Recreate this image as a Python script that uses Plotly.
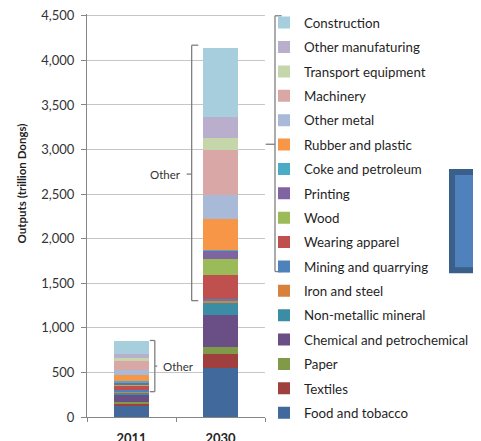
import plotly.graph_objects as go
import numpy as np

categories = ["2011", "2030"]
sectors = [
    "Food and tobacco", "Textiles", "Paper", "Chemical and petrochemical",
    "Non-metallic mineral", "Iron and steel", "Mining and quarrying",
    "Wearing apparel", "Wood", "Printing", "Coke and petroleum",
    "Rubber and plastic", "Other metal", "Machinery", "Transport equipment",
    "Other manufaturing", "Construction",
]
values_2011 = [123, 26, 22, 75, 30, 8, 14, 45, 23, 18, 19, 71, 48, 101, 38, 48, 149]
values_2030 = [555, 154, 75, 361, 143, 17, 20, 269, 176, 93, 11, 347, 269, 506, 136, 228, 784]
colors = [
    "#41699c", "#a0403e", "#7f9a48", "#6a4f87", "#3b8ca5", "#d9803a", "#4f81bd",
    "#c0504d", "#9bbb59", "#8064a2", "#4bacc6", "#f79646", "#a9b9d8", "#d8a7a6",
    "#c6d6ab", "#b9aecb", "#a6cedc",
]
other_first = "Mining and quarrying"
y_ticks = list(range(0, 4501, 500))
y_title = "Outputs (trillion Dongs)"

FONT = "Lato"
k = sectors.index(other_first)

fig = go.Figure()
for i, s in enumerate(sectors):
    fig.add_trace(go.Bar(
        x=categories, y=[values_2011[i], values_2030[i]], name=s,
        marker=dict(color=colors[i], line=dict(width=0)),
        legendgroup=s, legendrank=100 - i,
        legend="legend" if i >= k else "legend2",
    ))

# geometry: page body has an 8px margin, so figure coords = screen coords - 8
OFF = 8
W, H = 481 - OFF, 441 - OFF
Y_TOP = 4520                       # a little headroom so the 4,500 gridline is drawn
y_bottom_px, y4500_px = 417.3, 15.7
scale = (y_bottom_px - y4500_px) / 4500
top_px = y_bottom_px - Y_TOP * scale
ml = 87 - OFF
mr = W - (265 - OFF)
mt = top_px - OFF
mb = H - (y_bottom_px - OFF)
pw = W - ml - mr
ph = H - mt - mb
def px(x):
    return (x - OFF - ml) / pw
def py(y):
    return (H - mb - (y - OFF)) / ph

shapes = []
annotations = []
line_style = dict(color="#7f7f7f", width=1.3)
series = [values_2011, values_2030]
for ci, vals in enumerate(series):
    cum = np.cumsum(vals)
    bottom = float(cum[k - 1])
    top = float(cum[-1])
    mid = (bottom + top) / 2
    if ci == 0:
        xv, xe, xm = ci + 0.262, ci + 0.206, ci + 0.289
        annotations.append(dict(x=ci + 0.33, y=mid, xref="x", yref="y", text="Other",
                                showarrow=False, xanchor="left",
                                font=dict(family=FONT, size=11.5, color="#333")))
    else:
        top = top + 26
        xv, xe, xm = ci - 0.324, ci - 0.25, ci - 0.38
        annotations.append(dict(x=ci - 0.42, y=mid, xref="x", yref="y", text="Other",
                                showarrow=False, xanchor="right",
                                font=dict(family=FONT, size=11.5, color="#333")))
    for (x0, y0, x1, y1) in [(xe, top, xv, top), (xv, top, xv, bottom),
                             (xv, bottom, xe, bottom), (xv, mid, xm, mid)]:
        shapes.append(dict(type="line", xref="x", yref="y", x0=x0, y0=y0, x1=x1, y1=y1,
                           line=line_style, layer="above"))

# y-axis title (placed where the reference has it, above the plot centre)
annotations.append(dict(x=px(21.5), y=py(184), xref="paper", yref="paper",
                        text=y_title, textangle=-90, showarrow=False,
                        xanchor="center", yanchor="middle",
                        font=dict(family=FONT, size=11.5, color="#1f1f1f", weight="bold")))

# legend bracket
bx, btop, bbot, bmid = 275, 15.7, 271.7, 144.3
for (x0, y0, x1, y1) in [(281.7, btop, bx, btop), (bx, btop, bx, bbot),
                         (bx, bbot, 281.7, bbot), (bx, bmid, 265.7, bmid)]:
    shapes.append(dict(type="line", xref="paper", yref="paper",
                       x0=px(x0), y0=py(y0), x1=px(x1), y1=py(y1), line=line_style))

# decorative blue box at right edge
shapes.append(dict(type="rect", xref="paper", yref="paper",
                   x0=px(452), x1=px(500), y0=py(270.3), y1=py(172),
                   fillcolor="#4f81bd", line=dict(color="#3a5f8b", width=6)))

legend_common = dict(
    traceorder="grouped", tracegroupgap=4.1,
    x=px(264), xanchor="left", yanchor="middle",
    font=dict(family=FONT, size=13.3, color="#1f1f1f"),
    bgcolor="rgba(0,0,0,0)", borderwidth=0,
)

fig.update_layout(
    width=W, height=H,
    margin=dict(l=ml, r=mr, t=mt, b=mb, autoexpand=False),
    barmode="stack", bargap=0.6,
    plot_bgcolor="white", paper_bgcolor="white",
    font=dict(family=FONT, size=13, color="#262626"),
    showlegend=True,
    legend=dict(y=py(145), **legend_common),
    legend2=dict(y=py(352.4), **legend_common),
    shapes=shapes, annotations=annotations,
    xaxis=dict(
        type="category", showline=True, linecolor="#868686", linewidth=1,
        ticks="outside", ticklen=4, tickcolor="#868686", tickson="boundaries",
        tickfont=dict(family=FONT, size=13, color="#262626", weight="bold"),
        ticklabelstandoff=9, ticklabeloverflow="allow",
        showgrid=False, range=[-0.5, 1.5], automargin=False,
    ),
    yaxis=dict(
        range=[0, Y_TOP], tickvals=y_ticks, tickformat=",d",
        showline=True, linecolor="#868686", linewidth=1,
        ticks="outside", ticklen=5, tickcolor="#868686",
        showgrid=True, gridcolor="#c6c6c6", gridwidth=1,
        tickfont=dict(family=FONT, size=13, color="#333333"),
        ticklabelstandoff=4, ticklabeloverflow="allow", automargin=False,
        zeroline=False,
    ),
)

fig.write_html("out.html")
